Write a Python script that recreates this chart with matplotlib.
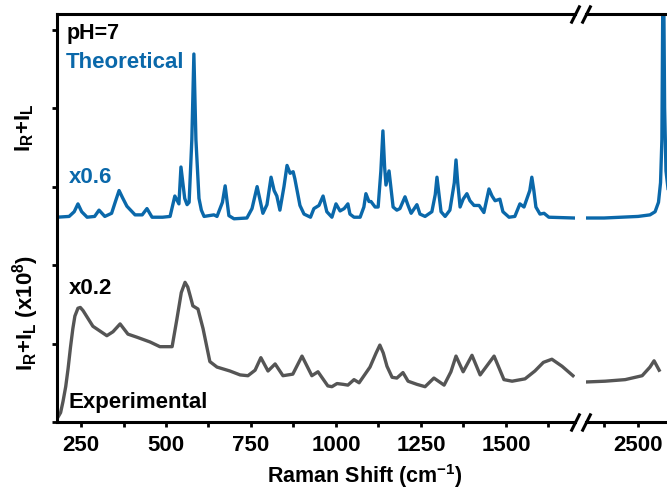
import numpy as np
import matplotlib
matplotlib.use('Agg')
import matplotlib.pyplot as plt
from matplotlib.ticker import FixedLocator

plt.rcParams['font.family'] = 'Liberation Sans'
plt.rcParams['font.weight'] = 'bold'
plt.rcParams['mathtext.fontset'] = 'custom'
plt.rcParams['mathtext.rm'] = 'Liberation Sans:bold'
plt.rcParams['mathtext.it'] = 'Liberation Sans:bold'
plt.rcParams['mathtext.bf'] = 'Liberation Sans:bold'

# theoretical spectrum (offset, x0.6), low-wavenumber part
teo_x = [179, 215, 230, 241, 252, 268, 290, 303, 320, 340, 352, 362, 372, 385, 409, 430, 444, 459, 490,
         512, 526, 538, 544, 555, 562, 568, 576, 582, 588, 597, 604, 612, 641, 650, 666, 674, 680, 685,
         700, 738, 753, 768, 785, 797, 809, 818, 826, 835, 847, 856, 865, 874, 879,
         894, 906, 925, 935, 950, 962, 973, 988, 1000, 1012, 1024, 1035, 1041, 1053,
         1071, 1082, 1088, 1097, 1103, 1115, 1124, 1132, 1138, 1143, 1147, 1156, 1168, 1179, 1188,
         1203, 1212, 1221, 1238, 1247, 1262, 1282, 1292, 1297, 1303, 1309, 1321, 1335, 1348, 1353, 1358, 1365,
         1374, 1385, 1394, 1406, 1421, 1435, 1450, 1459, 1468, 1482, 1491, 1509, 1526,
         1541, 1553, 1570, 1576, 1582, 1588, 1600, 1612, 1626, 1700]
teo_y = [2.61, 2.62, 2.68, 2.78, 2.68, 2.61, 2.62, 2.70, 2.62, 2.66, 2.82, 2.95, 2.86, 2.75, 2.64, 2.64, 2.72, 2.61, 2.61,
         2.62, 2.88, 2.78, 3.25, 2.85, 2.77, 2.80, 3.60, 4.69, 3.60, 2.85, 2.70, 2.62, 2.64, 2.62, 2.80, 3.01, 2.80, 2.63,
         2.59, 2.60, 2.72, 3.00, 2.66, 2.77, 3.12, 2.95, 2.88, 2.70, 3.00, 3.27, 3.17, 3.19, 3.10,
         2.76, 2.65, 2.61, 2.72, 2.76, 2.88, 2.68, 2.61, 2.78, 2.69, 2.72, 2.78, 2.65, 2.61,
         2.61, 2.74, 2.91, 2.81, 2.81, 2.74, 2.74, 3.20, 3.71, 3.25, 3.02, 3.20, 2.74, 2.70, 2.72,
         2.87, 2.76, 2.66, 2.77, 2.65, 2.62, 2.68, 2.90, 3.12, 2.90, 2.68, 2.62, 2.70, 3.05, 3.34, 3.05, 2.74,
         2.84, 2.91, 2.82, 2.76, 2.76, 2.67, 2.97, 2.88, 2.82, 2.84, 2.68, 2.61, 2.62,
         2.78, 2.74, 2.95, 3.12, 2.95, 2.74, 2.65, 2.66, 2.61, 2.60]
# theoretical, high-wavenumber part
teo_x2 = [2347, 2400, 2450, 2500, 2535, 2550, 2560, 2566, 2570, 2574, 2578, 2582, 2590]
teo_y2 = [2.60, 2.60, 2.61, 2.62, 2.64, 2.68, 2.80, 3.05, 3.60, 6.30, 4.00, 3.20, 2.90]

# experimental spectrum (x0.2)
exp_x = [182, 190, 197, 205, 212, 219, 226, 232, 241, 248, 256, 285, 326, 344, 365, 388, 415, 453, 482, 518,
         532, 545, 556, 564, 571, 579, 594, 609, 629, 650, 688, 718, 741, 762, 779, 800, 821,
         844, 873, 900, 929, 947, 976, 988, 1003, 1021, 1035, 1053, 1068, 1100, 1118, 1129, 1139,
         1150, 1165, 1179, 1197, 1212, 1238, 1262, 1288, 1318, 1338, 1353, 1374, 1400,
         1424, 1465, 1494, 1518, 1556, 1585, 1610, 1635, 1665, 1697]
exp_y = [0.06, 0.12, 0.26, 0.45, 0.68, 0.95, 1.19, 1.35, 1.45, 1.46, 1.42, 1.22, 1.10, 1.15, 1.25, 1.12, 1.08, 1.02, 0.96, 0.96,
         1.31, 1.65, 1.78, 1.72, 1.61, 1.48, 1.44, 1.19, 0.77, 0.70, 0.65, 0.60, 0.59, 0.66, 0.82, 0.65, 0.74,
         0.59, 0.61, 0.84, 0.59, 0.64, 0.46, 0.45, 0.49, 0.48, 0.47, 0.54, 0.50, 0.70, 0.88, 0.98, 0.88,
         0.71, 0.57, 0.56, 0.63, 0.52, 0.48, 0.45, 0.56, 0.47, 0.64, 0.84, 0.64, 0.85,
         0.60, 0.84, 0.54, 0.52, 0.55, 0.65, 0.76, 0.80, 0.71, 0.59]
exp_x2 = [2347, 2403, 2462, 2512, 2535, 2547, 2562]
exp_y2 = [0.51, 0.52, 0.54, 0.59, 0.70, 0.78, 0.66]

ticks_low = [250, 500, 750, 1000, 1250, 1500]
ticks_high = [2500]

azul = '#0A68AA'
gris = '#555555'

W, H = 667, 489
fig = plt.figure(figsize=(W / 100, H / 100), dpi=100)

abajo = 1 - 423 / H
alto = (423 - 15) / H
ax1 = fig.add_axes([57 / W, abajo, (575 - 57) / W, alto])
ax2 = fig.add_axes([586 / W, abajo, (667 - 586) / W, alto])

ax1.plot(teo_x, teo_y, color=azul, lw=2.4, solid_joinstyle='round')
ax1.plot(exp_x, exp_y, color=gris, lw=2.4, solid_joinstyle='round')
ax2.plot(teo_x2, teo_y2, color=azul, lw=2.4, solid_joinstyle='round')
ax2.plot(exp_x2, exp_y2, color=gris, lw=2.4, solid_joinstyle='round')

ax1.set_xlim(179.4, 1703)
ax2.set_xlim(2347, 2585)
for ax in (ax1, ax2):
    ax.set_ylim(0, 5.2)
    for s in ax.spines.values():
        s.set_linewidth(2.2)
    ax.spines['right'].set_visible(False)
    ax.tick_params(axis='both', which='both', direction='out', width=2, length=3.5,
                   labelsize=16, pad=5)

ax1.set_xticks(ticks_low)
ax1.xaxis.set_minor_locator(FixedLocator([t + 125 for t in ticks_low]))
ax1.set_yticks(np.arange(0, 6))
ax1.set_yticklabels([])

ax2.set_xticks(ticks_high)
ax2.xaxis.set_minor_locator(FixedLocator([2400]))
ax2.spines['left'].set_visible(False)
ax2.set_yticks([])

# marcas de corte //
for ax, xa in ((ax1, 1), (ax2, 0)):
    ax.plot([xa, xa], [0, 1], transform=ax.transAxes, marker=[(-1, -2), (1, 2)],
            markersize=13, linestyle='none', color='k', mec='k', mew=2.2, clip_on=False)

def pos(x, y):
    return x / W, 1 - y / H

fig.text(*pos(67, 33), 'pH=7', fontsize=15.5, color='k', va='center')
fig.text(*pos(66, 62), 'Theoretical', fontsize=16, color=azul, va='center')
fig.text(*pos(69, 178), 'x0.6', fontsize=16, color=azul, va='center')
fig.text(*pos(69, 288), 'x0.2', fontsize=16, color='k', va='center')
fig.text(*pos(69, 403), 'Experimental', fontsize=16, color='k', va='center')

fig.text(*pos(365, 483), 'Raman Shift (cm$^{-1}$)', fontsize=15.5, ha='center', va='baseline')
fig.text(*pos(25, 128), 'I$_{R}$+I$_{L}$', fontsize=16, rotation=90, ha='center', va='center')
fig.text(*pos(26, 313), 'I$_{R}$+I$_{L}$ (x10$^{8}$)', fontsize=16, rotation=90,
         ha='center', va='center')

fig.savefig('out.png', dpi=100)
